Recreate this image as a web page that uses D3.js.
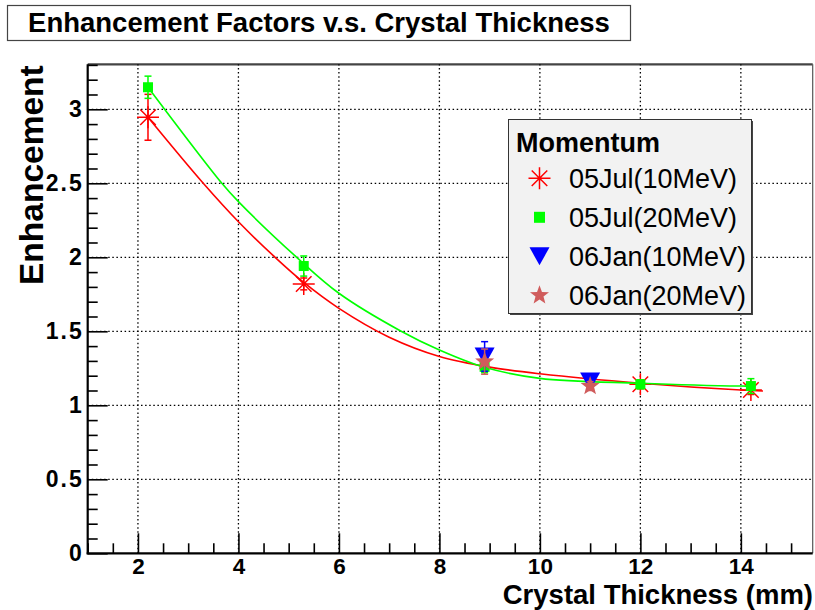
<!DOCTYPE html>
<html>
<head>
<meta charset="utf-8">
<script src="https://cdn.jsdelivr.net/npm/d3@7/dist/d3.min.js"></script>
<style>
  html, body { margin: 0; padding: 0; background: #fff; }
  svg { display: block; }
  text { font-family: "Liberation Sans", Arial, Helvetica, sans-serif; }
</style>
</head>
<body>
<svg id="chart" width="815" height="610"></svg>
<script>
// ---- data ----
const xTickLabels = [2, 4, 6, 8, 10, 12, 14];
const yTickLabels = [0, 0.5, 1, 1.5, 2, 2.5, 3];

// 05Jul, 10 MeV
const jul10X   = [2.2, 5.3, 12.0, 14.2];
const jul10Y   = [2.946, 1.82, 1.142, 1.103];
const jul10Err = [0.155, 0.04, 0.03, 0.03];

// 05Jul, 20 MeV
const jul20X   = [2.2, 5.3, 8.9, 12.0, 14.2];
const jul20Y   = [3.149, 1.941, 1.26, 1.142, 1.13];
const jul20Err = [0.075, 0.068, 0.04, 0.03, 0.05];

// 06Jan, 10 MeV
const jan10X   = [8.9, 11.0];
const jan10Y   = [1.33, 1.16];
const jan10Err = [0.1, 0.03];

// 06Jan, 20 MeV
const jan20X   = [8.9, 11.0];
const jan20Y   = [1.295, 1.13];
const jan20Err = [0.085, 0.03];

// fitted curves, sampled along their length
const fitJul10X = [2.2, 3.3, 4.0, 4.73, 5.3, 6.0, 7.0, 8.0, 9.0, 10.0, 12.0, 14.0, 14.44];
const fitJul10Y = [2.946, 2.5, 2.24, 2.0, 1.83, 1.655, 1.46, 1.33, 1.258, 1.213, 1.149, 1.103, 1.097];
const fitJul20X = [2.2, 3.67, 4.0, 5.16, 6.0, 7.22, 8.0, 8.9, 10.0, 12.0, 14.0, 14.2];
const fitJul20Y = [3.149, 2.5, 2.376, 2.0, 1.757, 1.504, 1.374, 1.257, 1.182, 1.149, 1.130, 1.13];

const legendTitle = "Momentum";
const seriesNames = ["05Jul(10MeV)", "05Jul(20MeV)", "06Jan(10MeV)", "06Jan(20MeV)"];
const seriesColors = ["#ff0000", "#00ff00", "#0000ff", "#d05c5c"];

// ---- layout ----
const svg = d3.select("#chart");
const L = 87.7, R = 812.7, T = 64.3, B = 553.3;
const x = d3.scaleLinear().domain([1.0, 15.43]).range([L, R]);
const y = d3.scaleLinear().domain([0, 3.304]).range([B, T]);

// title box
svg.append("rect").attr("x", 7.5).attr("y", 5.5).attr("width", 623).attr("height", 35)
  .attr("fill", "#fff").attr("stroke", "#444").attr("stroke-width", 1.2);
svg.append("text").attr("x", 319).attr("y", 32).attr("text-anchor", "middle")
  .attr("font-size", 27.5).attr("font-weight", "bold").text("Enhancement Factors v.s. Crystal Thickness");

// frame
svg.append("line").attr("x1", L).attr("x2", R).attr("y1", T).attr("y2", T)
  .attr("stroke", "#444").attr("stroke-width", 2.2);
svg.append("line").attr("x1", R).attr("x2", R).attr("y1", T).attr("y2", B)
  .attr("stroke", "#555").attr("stroke-width", 1.2);

// grid
const grid = svg.append("g").attr("stroke", "#000").attr("stroke-width", 1.3)
  .attr("stroke-dasharray", "1.5,2.6");
grid.selectAll(".gx").data(xTickLabels).enter().append("line")
  .attr("x1", d => x(d)).attr("x2", d => x(d)).attr("y1", B).attr("y2", T);
grid.selectAll(".gy").data(yTickLabels.filter(d => d > 0)).enter().append("line")
  .attr("x1", L).attr("x2", R).attr("y1", d => y(d)).attr("y2", d => y(d));

// axes: major ticks inward with labels, minor ticks inward
const yMinor = d3.range(0, 3.301, 0.1).filter(v => Math.abs(v * 2 - Math.round(v * 2)) > 1e-6);
const xMinor = d3.range(1.0, 15.43, 0.5).filter(v => Math.abs(v / 2 - Math.round(v / 2)) > 1e-6);

const yAxis = svg.append("g").attr("transform", `translate(${L},0)`)
  .call(d3.axisLeft(y).tickValues(yTickLabels).tickSize(-20).tickPadding(6)
    .tickFormat(d3.format("~g")));
const xAxis = svg.append("g").attr("transform", `translate(0,${B})`)
  .call(d3.axisBottom(x).tickValues(xTickLabels).tickSize(-20).tickPadding(5)
    .tickFormat(d3.format("~g")));
svg.append("g").attr("transform", `translate(${L},0)`)
  .call(d3.axisLeft(y).tickValues(yMinor).tickSize(-10).tickFormat(""))
  .call(g => g.select(".domain").remove());
svg.append("g").attr("transform", `translate(0,${B})`)
  .call(d3.axisBottom(x).tickValues(xMinor).tickSize(-10).tickFormat(""))
  .call(g => g.select(".domain").remove());

svg.selectAll(".domain").attr("stroke", "#000").attr("stroke-width", 2.2);
svg.selectAll(".tick line").attr("stroke", "#000").attr("stroke-width", 1.6);
yAxis.selectAll(".domain").attr("d", `M0,${T}V${B + 1}`);
xAxis.selectAll(".domain").attr("d", `M${L - 1},0H${R}`);
yAxis.selectAll(".tick text").attr("font-size", 23);
xAxis.selectAll(".tick text").attr("font-size", 22.5);
svg.selectAll(".tick text").attr("font-weight", "bold")
  .attr("fill", "#000").style("font-family", "'Liberation Sans', Arial, sans-serif");
// decimal labels are set a little wider around the point
yAxis.selectAll(".tick text").filter(d => !Number.isInteger(d))
  .style("letter-spacing", "2px").attr("dx", 2);

// axis titles
svg.append("text").attr("transform", `translate(43,${T + 1}) rotate(-90)`)
  .attr("text-anchor", "end").attr("font-size", 33.5).attr("font-weight", "bold").text("Enhancement");
svg.append("text").attr("x", 813).attr("y", 604).attr("text-anchor", "end")
  .attr("font-size", 27.5).attr("font-weight", "bold").text("Crystal Thickness (mm)");

// ---- marker shapes ----
function asterisk(g, cx, cy, color, r) {
  const d = r * Math.SQRT1_2;
  const p = `M${cx - r},${cy}H${cx + r}M${cx},${cy - r}V${cy + r}` +
            `M${cx - d},${cy - d}L${cx + d},${cy + d}M${cx - d},${cy + d}L${cx + d},${cy - d}`;
  g.append("path").attr("d", p).attr("stroke", color).attr("stroke-width", 1.5).attr("fill", "none");
}
function square(g, cx, cy, color, s) {
  g.append("rect").attr("x", cx - s / 2).attr("y", cy - s / 2).attr("width", s).attr("height", s)
    .attr("fill", color);
}
function triDown(g, cx, cy, color, w) {
  const h = w * 0.9;
  g.append("path").attr("d", `M${cx - w / 2},${cy - h / 2}L${cx + w / 2},${cy - h / 2}L${cx},${cy + h / 2}Z`)
    .attr("fill", color);
}
function star(g, cx, cy, color, r) {
  const pts = [];
  for (let i = 0; i < 10; i++) {
    const rr = i % 2 === 0 ? r : r * 0.42;
    const a = -Math.PI / 2 + i * Math.PI / 5;
    pts.push([cx + rr * Math.cos(a), cy + rr * Math.sin(a)]);
  }
  g.append("path").attr("d", "M" + pts.map(p => p.join(",")).join("L") + "Z").attr("fill", color);
}

// ---- plot series ----
const plot = svg.append("g");
const line = d3.line().x(d => x(d[0])).y(d => y(d[1])).curve(d3.curveCatmullRom.alpha(0.5));

function errorBars(xs, ys, es, color) {
  const g = plot.append("g").attr("stroke", color).attr("stroke-width", 1.5);
  xs.forEach((xv, i) => {
    const px = x(xv), y0 = y(ys[i] - es[i]), y1 = y(ys[i] + es[i]);
    g.append("line").attr("x1", px).attr("x2", px).attr("y1", y0).attr("y2", y1);
    g.append("line").attr("x1", px - 3.5).attr("x2", px + 3.5).attr("y1", y0).attr("y2", y0);
    g.append("line").attr("x1", px - 3.5).attr("x2", px + 3.5).attr("y1", y1).attr("y2", y1);
  });
}

// 05Jul 10 MeV
plot.append("path").datum(d3.zip(fitJul10X, fitJul10Y)).attr("d", line)
  .attr("fill", "none").attr("stroke", seriesColors[0]).attr("stroke-width", 1.6);
errorBars(jul10X, jul10Y, jul10Err, seriesColors[0]);
jul10X.forEach((xv, i) => asterisk(plot, x(xv), y(jul10Y[i]), seriesColors[0], 11));

// 05Jul 20 MeV
plot.append("path").datum(d3.zip(fitJul20X, fitJul20Y)).attr("d", line)
  .attr("fill", "none").attr("stroke", seriesColors[1]).attr("stroke-width", 1.6);
errorBars(jul20X, jul20Y, jul20Err, seriesColors[1]);
jul20X.forEach((xv, i) => square(plot, x(xv), y(jul20Y[i]), seriesColors[1], 10));

// 06Jan 10 MeV
errorBars(jan10X, jan10Y, jan10Err, seriesColors[2]);
jan10X.forEach((xv, i) => triDown(plot, x(xv), y(jan10Y[i]), seriesColors[2], 20));

// 06Jan 20 MeV
errorBars(jan20X, jan20Y, jan20Err, seriesColors[3]);
jan20X.forEach((xv, i) => star(plot, x(xv), y(jan20Y[i]), seriesColors[3], 10));

// ---- legend ----
const lg = svg.append("g");
lg.append("rect").attr("x", 510).attr("y", 121).attr("width", 243).attr("height", 194).attr("fill", "#444");
lg.append("rect").attr("x", 508.5).attr("y", 119.5).attr("width", 243).attr("height", 194)
  .attr("fill", "#f2f2f2").attr("stroke", "#333").attr("stroke-width", 1);
lg.append("text").attr("x", 516).attr("y", 152).attr("font-size", 27).attr("font-weight", "bold")
  .text(legendTitle);
const markers = [
  (g, cx, cy) => asterisk(g, cx, cy, seriesColors[0], 11),
  (g, cx, cy) => square(g, cx, cy, seriesColors[1], 11),
  (g, cx, cy) => triDown(g, cx, cy, seriesColors[2], 20),
  (g, cx, cy) => star(g, cx, cy, seriesColors[3], 10)
];
seriesNames.forEach((name, i) => {
  const cy = 178.3 + i * 39;
  markers[i](lg, 539.5, cy);
  lg.append("text").attr("x", 569).attr("y", cy + 9.5).attr("font-size", 27).text(name);
});
</script>
</body>
</html>
